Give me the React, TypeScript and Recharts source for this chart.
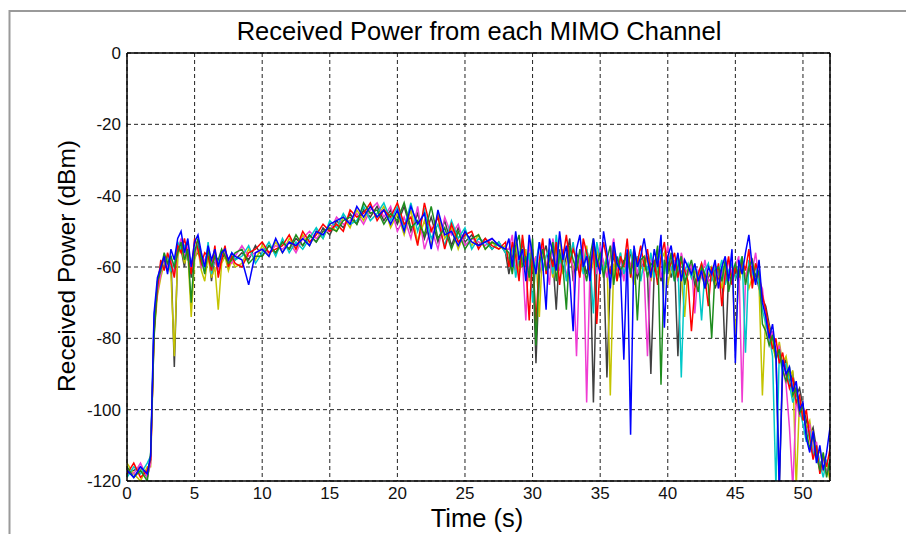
import React from 'react';
import { LineChart, Line, XAxis, YAxis, CartesianGrid, ReferenceLine } from 'recharts';

// sample times (s): coarse where the signal is smooth, finer where it fades
const times = [
  0, 0.5, 1, 1.5,
  1.75, 2, 2.25, 2.5, 2.75, 3, 3.25, 3.5, 3.75, 4, 4.25, 4.5, 4.75, 5, 5.25, 5.5, 5.75, 6, 6.25, 6.5, 6.75, 7, 7.25, 7.5, 7.75, 8,
  8.5, 9, 9.5, 10, 10.5, 11, 11.5, 12, 12.5, 13, 13.5, 14, 14.5, 15, 15.5, 16, 16.5, 17, 17.5, 18,
  18.5, 19, 19.5, 20, 20.5, 21, 21.5, 22, 22.5, 23, 23.5, 24, 24.5, 25, 25.5, 26, 26.5, 27, 27.5, 28,
  28.25, 28.5, 28.75, 29, 29.25, 29.5, 29.75, 30, 30.25, 30.5, 30.75, 31, 31.25, 31.5, 31.75, 32, 32.25, 32.5, 32.75, 33,
  33.25, 33.5, 33.75, 34, 34.25, 34.5, 34.75, 35, 35.25, 35.5, 35.75, 36, 36.25, 36.5, 36.75, 37, 37.25, 37.5, 37.75, 38,
  38.25, 38.5, 38.75, 39, 39.25, 39.5, 39.75, 40, 40.25, 40.5, 40.75, 41, 41.25, 41.5, 41.75, 42, 42.25, 42.5, 42.75, 43,
  43.25, 43.5, 43.75, 44, 44.25, 44.5, 44.75, 45, 45.25, 45.5, 45.75, 46, 46.25, 46.5, 46.75, 47,
  47.25, 47.5, 47.75, 48, 48.25, 48.5, 48.75, 49, 49.25, 49.5, 49.75, 50, 50.25, 50.5, 50.75, 51, 51.25, 51.5, 51.75, 52,
];

// received power per channel (dBm)
const chGrey = [
  -118, -117, -116, -119,
  -114, -77, -66, -60, -58, -61, -57, -88, -56, -55, -60, -53, -63, -57, -56, -58, -60, -55, -64, -57, -62, -58, -56, -60, -57, -58,
  -56, -58, -54, -57, -54, -56, -53, -55, -52, -54, -51, -53, -49, -51, -47, -49, -45, -48, -44, -46,
  -43, -47, -44, -48, -43, -50, -45, -52, -46, -53, -47, -54, -49, -53, -51, -54, -52, -55, -53, -56,
  -62, -57, -55, -60, -53, -58, -61, -56, -87, -62, -57, -54, -60, -58, -72, -55, -61, -57, -52, -64,
  -56, -60, -58, -62, -57, -98, -61, -55, -59, -91, -62, -57, -60, -63, -58, -61, -56, -59, -63, -60,
  -59, -62, -90, -61, -57, -64, -60, -58, -63, -59, -85, -61, -64, -62, -60, -65, -63, -61, -66, -63,
  -61, -66, -63, -60, -86, -62, -64, -61, -65, -59, -63, -60, -64, -62, -66, -69,
  -71, -76, -80, -84, -122, -88, -86, -92, -90, -96, -94, -99, -103, -107, -105, -111, -116, -113, -118, -116,
];
const chYellow = [
  -115, -118, -120, -116,
  -116, -79, -68, -63, -59, -58, -62, -85, -57, -54, -59, -56, -74, -58, -55, -61, -64, -57, -63, -60, -72, -59, -57, -61, -58, -60,
  -59, -55, -58, -54, -57, -53, -56, -52, -55, -51, -54, -50, -52, -48, -50, -46, -49, -44, -47, -43,
  -46, -43, -49, -45, -51, -44, -53, -47, -54, -45, -52, -49, -55, -50, -54, -51, -55, -53, -55, -54,
  -59, -56, -52, -62, -58, -55, -64, -60, -57, -74, -54, -61, -58, -63, -56, -52, -62, -59, -55, -61,
  -57, -62, -59, -54, -63, -58, -55, -61, -60, -57, -96, -59, -64, -56, -62, -58, -61, -65, -57, -60,
  -61, -57, -64, -59, -62, -58, -56, -65, -60, -63, -57, -62, -74, -60, -63, -61, -64, -59, -65, -62,
  -60, -65, -62, -66, -59, -63, -61, -79, -64, -60, -62, -66, -63, -59, -65, -96,
  -73, -77, -82, -86, -81, -87, -85, -91, -89, -122, -97, -101, -105, -103, -110, -114, -111, -117, -115, -120,
];
const chMagenta = [
  -117, -118, -115, -119,
  -115, -76, -67, -62, -57, -60, -58, -62, -55, -52, -57, -54, -61, -57, -53, -60, -58, -56, -59, -58, -61, -56, -56, -58, -59, -57,
  -54, -57, -56, -55, -56, -54, -55, -53, -56, -52, -50, -52, -50, -50, -46, -48, -47, -45, -48, -44,
  -42, -46, -43, -50, -46, -52, -43, -55, -49, -55, -46, -51, -48, -54, -52, -53, -54, -52, -54, -55,
  -55, -51, -61, -56, -58, -75, -53, -60, -57, -62, -54, -59, -65, -52, -58, -61, -55, -63, -57, -60,
  -85, -57, -53, -98, -60, -56, -62, -54, -59, -63, -57, -52, -61, -58, -64, -56, -60, -55, -62, -58,
  -62, -85, -57, -60, -55, -63, -59, -54, -61, -58, -64, -56, -60, -62, -59, -73, -61, -63, -58, -64,
  -63, -59, -66, -61, -64, -58, -62, -60, -57, -98, -63, -59, -61, -56, -64, -66,
  -75, -81, -78, -85, -82, -88, -93, -105, -122, -97, -102, -99, -107, -104, -112, -109, -116, -113, -118, -115,
];
const chCyan = [
  -119, -116, -118, -115,
  -113, -74, -65, -59, -60, -57, -61, -59, -53, -55, -54, -58, -59, -55, -54, -57, -61, -53, -62, -56, -59, -57, -55, -59, -56, -58,
  -57, -54, -59, -56, -53, -57, -52, -56, -53, -55, -52, -49, -52, -47, -49, -45, -48, -47, -43, -47,
  -45, -42, -47, -43, -49, -42, -50, -44, -52, -48, -54, -47, -52, -49, -55, -52, -53, -55, -53, -56,
  -58, -54, -63, -57, -52, -60, -56, -70, -59, -53, -61, -57, -55, -62, -51, -59, -56, -64, -58, -53,
  -60, -56, -62, -55, -59, -73, -53, -58, -61, -57, -63, -54, -60, -56, -62, -59, -55, -61, -57, -64,
  -58, -61, -56, -63, -59, -55, -62, -57, -60, -64, -58, -91, -61, -59, -63, -60, -62, -75, -61, -59,
  -64, -60, -62, -58, -65, -61, -59, -63, -60, -57, -84, -58, -62, -60, -65, -72,
  -76, -79, -85, -122, -84, -90, -87, -93, -98, -95, -100, -104, -109, -106, -113, -110, -115, -119, -114, -117,
];
const chRed = [
  -118, -115, -119, -117,
  -114, -78, -66, -58, -61, -56, -59, -63, -54, -56, -52, -57, -62, -52, -55, -59, -56, -57, -61, -54, -63, -58, -54, -60, -57, -59,
  -60, -56, -55, -53, -56, -55, -54, -51, -55, -50, -53, -51, -48, -50, -48, -50, -44, -46, -45, -42,
  -47, -44, -46, -42, -48, -46, -54, -42, -50, -46, -55, -48, -53, -51, -50, -55, -52, -54, -55, -53,
  -60, -53, -57, -64, -51, -59, -75, -55, -76, -58, -52, -62, -56, -60, -53, -65, -57, -51, -59, -55,
  -58, -63, -52, -56, -61, -54, -76, -59, -53, -58, -62, -55, -64, -57, -60, -52, -63, -56, -59, -54,
  -60, -55, -62, -58, -65, -57, -53, -61, -59, -56, -63, -58, -61, -64, -78, -66, -62, -59, -63, -71,
  -60, -64, -59, -71, -62, -57, -65, -60, -63, -58, -61, -55, -66, -59, -62, -68,
  -72, -78, -83, -80, -87, -84, -90, -94, -91, -98, -96, -103, -100, -108, -114, -110, -118, -113, -116, -111,
];
const chGreen = [
  -116, -119, -117, -120,
  -112, -80, -64, -61, -56, -59, -57, -60, -56, -53, -58, -55, -70, -56, -52, -58, -62, -55, -60, -57, -58, -55, -57, -59, -58, -56,
  -55, -59, -57, -57, -54, -56, -53, -55, -51, -54, -51, -53, -50, -49, -50, -47, -46, -48, -42, -45,
  -44, -48, -45, -47, -42, -49, -47, -51, -43, -52, -49, -55, -50, -55, -52, -51, -55, -53, -54, -55,
  -56, -62, -54, -51, -60, -57, -63, -52, -82, -59, -55, -61, -58, -53, -64, -56, -60, -72, -54, -58,
  -61, -55, -59, -64, -57, -52, -60, -56, -63, -58, -54, -65, -57, -61, -59, -56, -62, -55, -75, -58,
  -57, -63, -59, -60, -54, -93, -58, -62, -56, -64, -60, -57, -65, -61, -58, -63, -67, -60, -62, -65,
  -80, -61, -60, -64, -58, -67, -62, -59, -63, -57, -65, -60, -58, -64, -61, -76,
  -78, -82, -79, -86, -83, -89, -92, -88, -96, -94, -101, -99, -106, -111, -107, -113, -117, -112, -119, -114,
];
const chBlue = [
  -117, -119, -116, -118,
  -113, -73, -63, -60, -57, -62, -55, -58, -52, -50, -56, -52, -60, -53, -51, -56, -60, -54, -58, -55, -60, -56, -55, -58, -56, -57,
  -58, -65, -56, -55, -57, -52, -56, -53, -54, -52, -54, -50, -51, -48, -47, -46, -48, -43, -46, -43,
  -46, -44, -48, -44, -50, -43, -48, -45, -55, -44, -51, -50, -54, -50, -53, -54, -53, -52, -54, -55,
  -52, -60, -50, -58, -55, -64, -51, -57, -62, -53, -59, -72, -52, -56, -61, -50, -58, -54, -63, -78,
  -55, -51, -60, -57, -64, -52, -58, -62, -50, -56, -66, -53, -59, -61, -86, -55, -107, -54, -60, -57,
  -52, -58, -63, -55, -60, -51, -77, -57, -54, -61, -56, -64, -58, -60, -62, -59, -64, -61, -66, -60,
  -62, -58, -66, -60, -57, -64, -55, -87, -58, -62, -56, -51, -60, -65, -58, -70,
  -74, -80, -76, -84, -122, -86, -90, -88, -95, -92, -100, -98, -108, -112, -106, -115, -110, -117, -112, -105,
];

const xTicks = [0, 5, 10, 15, 20, 25, 30, 35, 40, 45, 50];
const yTicks = [-120, -100, -80, -60, -40, -20, 0];

// drawn in this order, blue last so it sits on top
const channels = [
  { key: 'grey', values: chGrey, color: '#404040' },
  { key: 'yellow', values: chYellow, color: '#c4c400' },
  { key: 'magenta', values: chMagenta, color: '#f03cd2' },
  { key: 'cyan', values: chCyan, color: '#00c8c8' },
  { key: 'red', values: chRed, color: '#ff0000' },
  { key: 'green', values: chGreen, color: '#1e8c1e' },
  { key: 'blue', values: chBlue, color: '#0000ff' },
];

const rows = times.map((t, i) => {
  const row: Record<string, number> = { t };
  channels.forEach(c => { row[c.key] = c.values[i]; });
  return row;
});

const font = '"Liberation Sans", Arial, Helvetica, sans-serif';
const tickStyle = { fill: '#111', fontSize: 17, fontFamily: font };

export default function App() {
  return (
    <div style={{ position: 'absolute', left: 0, top: 0, width: 906, height: 534, background: '#fff', overflow: 'hidden' }}>
      <LineChart width={906} height={534} data={rows} margin={{ top: 53, right: 76, bottom: 23, left: 87 }}>
        <CartesianGrid strokeDasharray="4 3" stroke="#222" strokeWidth={1} />
        <XAxis
          dataKey="t" type="number" domain={[0, 52]} ticks={xTicks} interval={0} allowDataOverflow
          height={30} tick={tickStyle} tickLine={false} tickSize={4} tickMargin={2}
          axisLine={{ stroke: '#000', strokeWidth: 1.5 }}
        />
        <YAxis
          type="number" domain={[-120, 0]} ticks={yTicks} interval={0} allowDataOverflow
          width={40} tick={tickStyle} tickLine={false} tickSize={4} tickMargin={2}
          axisLine={{ stroke: '#000', strokeWidth: 1.5 }}
        />
        {channels.map(c => (
          <Line key={c.key} type="linear" dataKey={c.key} stroke={c.color} strokeWidth={1.5}
            dot={false} activeDot={false} isAnimationActive={false} />
        ))}
        <ReferenceLine y={0} stroke="#000" strokeWidth={1.5} />
        <ReferenceLine x={52} stroke="#000" strokeWidth={1.5} />
      </LineChart>
      <svg width={906} height={534} style={{ position: 'absolute', left: 0, top: 0, pointerEvents: 'none' }}>
        <polyline points="9.5,534 9.5,11 906,11" fill="none" stroke="#9a9a9a" strokeWidth={2} />
        <text x={479} y={40} textAnchor="middle" fontSize={25.5} fontFamily={font} fill="#000">
          Received Power from each MIMO Channel
        </text>
        <text x={477} y={527} textAnchor="middle" fontSize={25.5} fontFamily={font} fill="#000">
          Time (s)
        </text>
        <text x={75} y={266} textAnchor="middle" fontSize={24.5} fontFamily={font} fill="#000"
          transform="rotate(-90 75 266)">
          Received Power (dBm)
        </text>
      </svg>
    </div>
  );
}
